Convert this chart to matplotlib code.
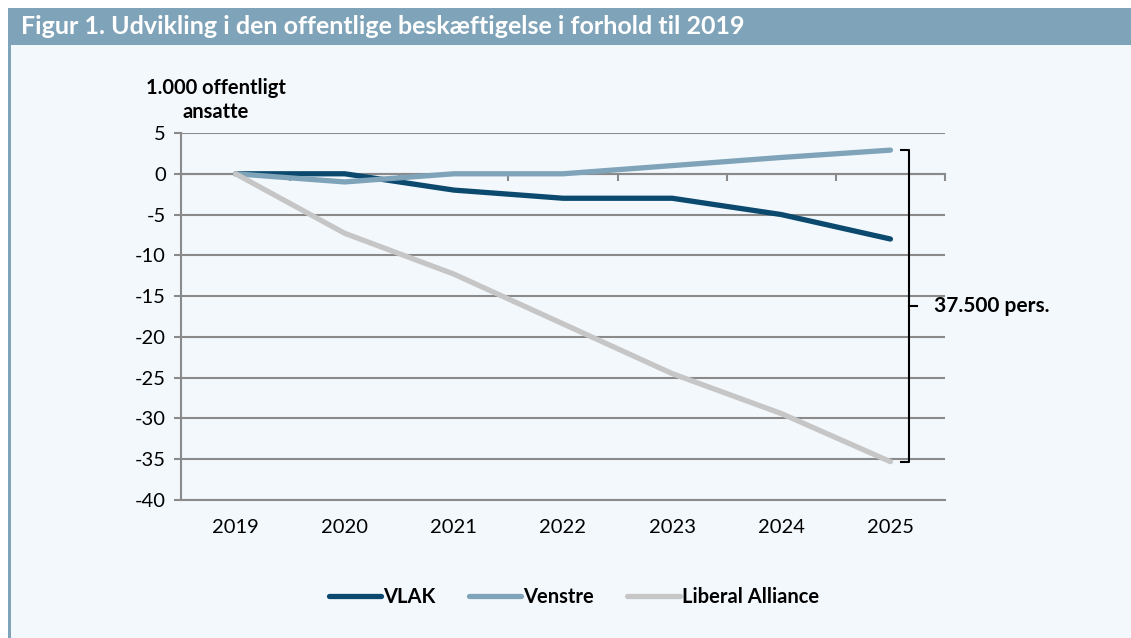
import matplotlib.pyplot as plt
from matplotlib.lines import Line2D
from matplotlib.patches import Rectangle

# data
years = ['2019', '2020', '2021', '2022', '2023', '2024', '2025']
vlak = [0, 0, -2, -3, -3, -5, -8]
venstre = [0, -1, 0, 0, 1, 2, 2.9]
liberal_alliance = [0, -7.3, -12.3, -18.4, -24.5, -29.4, -35.3]
series_names = ['VLAK', 'Venstre', 'Liberal Alliance']
colors = ['#0b4a6e', '#7fa3b8', '#c6c6c6']
title = 'Figur 1. Udvikling i den offentlige beskæftigelse i forhold til 2019'
ylabel = '1.000 offentligt\nansatte'
bracket_label = '37.500 pers.'

plt.rcParams['font.family'] = ['Lato', 'DejaVu Sans']
bg = '#f3f8fc'
grid_c = '#8a8a8a'

fig = plt.figure(figsize=(11.31, 6.38), dpi=100)
fig.patch.set_facecolor(bg)

# header band and left border
fig.patches.append(Rectangle((8 / 1131, 1 - 45 / 638), 1, 37 / 638, transform=fig.transFigure,
                             facecolor='#7fa3b8', edgecolor='none', zorder=0))
fig.patches.append(Rectangle((8 / 1131, 0), 2.5 / 1131, 1 - 45 / 638, transform=fig.transFigure,
                             facecolor='#7fa3b8', edgecolor='none', zorder=0))
fig.patches.append(Rectangle((0, 0), 8 / 1131, 1, transform=fig.transFigure,
                             facecolor='white', edgecolor='none', zorder=0))
fig.patches.append(Rectangle((0, 1 - 8 / 638), 1, 8 / 638, transform=fig.transFigure,
                             facecolor='white', edgecolor='none', zorder=0))
fig.text(21 / 1131, 1 - 27 / 638, title, color='white', fontsize=18, fontweight='bold',
         va='center', ha='left')

ax = fig.add_axes([181 / 1131, 1 - 500 / 638, (945 - 181) / 1131, (500 - 133) / 638])
ax.set_facecolor(bg)
x = list(range(len(years)))
for name, vals, c in zip(series_names, [vlak, venstre, liberal_alliance], colors):
    ax.plot(x, vals, color=c, lw=3.8, solid_capstyle='round', solid_joinstyle='round',
            label=name, zorder=3)

ax.set_xlim(-0.5, len(years) - 0.5)
ax.set_ylim(-40, 5)
ax.set_yticks(range(-40, 6, 5))
ax.set_yticklabels([str(v) for v in range(-40, 6, 5)], fontsize=14.5)
ax.set_xticks(x)
ax.set_xticklabels(years, fontsize=14.5)
ax.tick_params(axis='x', length=0, pad=14)
ax.tick_params(axis='y', length=5, width=1.5, color=grid_c, pad=6)
ax.grid(axis='y', color=grid_c, lw=1.5, zorder=1)
for s in ['top', 'right']:
    ax.spines[s].set_visible(False)
for s in ['left', 'bottom']:
    ax.spines[s].set_color(grid_c)
    ax.spines[s].set_linewidth(1.5)

# horizontal axis line at zero with category boundary ticks
sec = ax.secondary_xaxis(0, transform=ax.transData)
sec.set_xticks([i - 0.5 for i in range(len(years) + 1)])
sec.set_xticklabels([])
sec.tick_params(length=5, width=1.5, color=grid_c, direction='out')
sec.spines['bottom'].set_color(grid_c)
sec.spines['bottom'].set_linewidth(1.5)

fig.text(216 / 1131, 1 - 100 / 638, ylabel, fontsize=14.5, fontweight='bold', ha='center',
         va='center', linespacing=1.3)

# bracket showing the difference in 2025
top, bot = venstre[-1], liberal_alliance[-1]
bx = len(years) - 1 + 0.17
hook = 0.07
ax.plot([bx - hook, bx, bx, bx - hook], [top, top, bot, bot], color='black', lw=1.5,
        clip_on=False, zorder=4)
mid = (top + bot) / 2
ax.plot([bx, bx + hook], [mid, mid], color='black', lw=1.5, clip_on=False, zorder=4)
ax.text(bx + 0.23, mid, bracket_label, fontsize=15, fontweight='bold', va='center',
        ha='left', clip_on=False)

handles = [Line2D([], [], color=c, lw=3.8, solid_capstyle='round') for c in colors]
leg = fig.legend(handles, series_names, loc='center', bbox_to_anchor=(574 / 1131, 1 - 597 / 638),
                 ncol=3, frameon=False, handlelength=2.6, handletextpad=0.1, columnspacing=1.65,
                 prop={'weight': 'bold', 'size': 14.5})

fig.savefig('out.png', dpi=100, facecolor=fig.get_facecolor())
